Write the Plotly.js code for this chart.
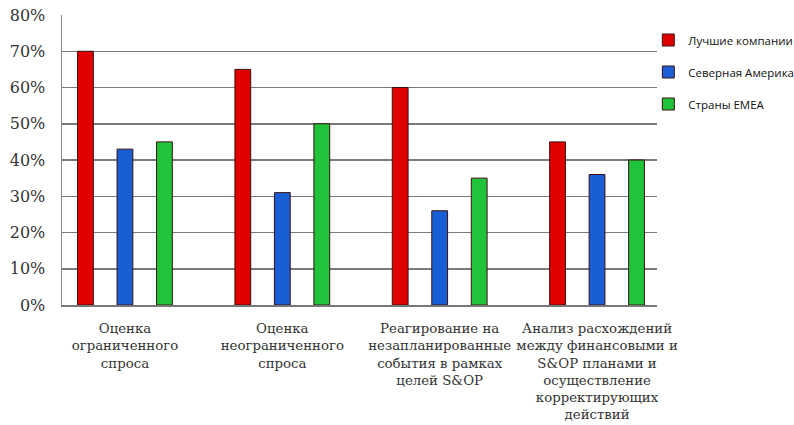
<!DOCTYPE html>
<html>
<head>
<meta charset="utf-8">
<script src="https://cdn.plot.ly/plotly-3.0.1.min.js"></script>
<style>html,body{margin:0;padding:0;background:#fff;}#chart{width:794px;height:425px;}</style>
</head>
<body>
<div id="chart"></div>
<script>
const categories = [
  "Оценка<br>ограниченного<br>спроса",
  "Оценка<br>неограниченного<br>спроса",
  "Реагирование на<br>незапланированные<br>события в рамках<br>целей S&amp;OP",
  "Анализ расхождений<br>между финансовыми и<br>S&amp;OP планами и<br>осуществление<br>корректирующих<br>действий"
];
const seriesNames = ["Лучшие компании", "Северная Америка", "Страны EMEA"];
const bestCompanies = [70, 65, 60, 45];
const northAmerica = [43, 31, 26, 36];
const emea = [45, 50, 35, 40];
const yTicks = [0, 10, 20, 30, 40, 50, 60, 70, 80];
const yTickText = ["0%", "10%", "20%", "30%", "40%", "50%", "60%", "70%", "80%"];

const colors = ["#e00000", "#1a5ed6", "#1fc43a"];
const values = [bestCompanies, northAmerica, emea];
const idx = categories.map((c, i) => i);

const traces = values.map((v, k) => ({
  type: "bar",
  x: idx,
  y: v,
  name: seriesNames[k],
  legendgroup: "g" + k,
  marker: {color: colors[k], line: {color: "#3a1010", width: 1}}
}));

const layout = {
  width: 794, height: 425,
  margin: {l: 62, r: 137, t: 15, b: 120, autoexpand: false},
  paper_bgcolor: "#fff", plot_bgcolor: "#fff",
  barmode: "group",
  bargap: 0.247,
  bargroupgap: 0.6,
  showlegend: true,
  legend: {
    xref: "container", yref: "container",
    x: 0.8165, xanchor: "left", y: 0.94, yanchor: "top",
    font: {family: "Open Sans, sans-serif", size: 11.5, color: "#111"},
    tracegroupgap: 13,
    bgcolor: "rgba(0,0,0,0)"
  },
  xaxis: {
    range: [-0.4, 3.381],
    tickmode: "array", tickvals: idx, ticktext: categories,
    tickangle: 0,
    showgrid: false, zeroline: false,
    showline: true, linecolor: "#777", linewidth: 2,
    ticks: "", ticklabelstandoff: 10,
    tickfont: {family: "DejaVu Serif, serif", size: 13.3, color: "#333"},
    fixedrange: true
  },
  yaxis: {
    range: [0, 80],
    tickmode: "array", tickvals: yTicks, ticktext: yTickText,
    showgrid: true, gridcolor: "#7a7a7a", gridwidth: 1.5,
    zeroline: false,
    showline: true, linecolor: "#888", linewidth: 1.5,
    ticks: "", ticklabelstandoff: 12,
    tickfont: {family: "DejaVu Serif, serif", size: 16, color: "#333"},
    fixedrange: true
  }
};

Plotly.newPlot("chart", traces, layout, {displayModeBar: false, staticPlot: true});
</script>
</body>
</html>
